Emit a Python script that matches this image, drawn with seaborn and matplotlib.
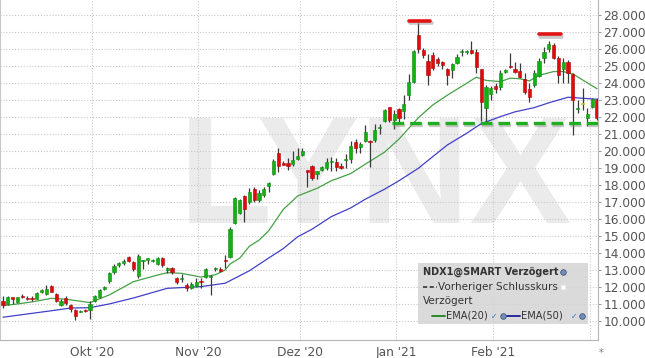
import numpy as np
import pandas as pd
import matplotlib
matplotlib.use("Agg")
import matplotlib.pyplot as plt
import matplotlib.patheffects as pe
from matplotlib.patches import Rectangle
import seaborn as sns

# ---------------- data ----------------
opens = [11.16, 11.00, 11.41, 11.12, 11.45, 11.35, 11.35, 11.30, 11.70, 11.60,
         12.05, 11.60, 10.96, 11.37, 10.96, 10.64, 10.52, 10.64, 10.67, 11.16,
         11.40, 11.90, 12.38, 12.86, 13.30, 13.43, 13.75, 13.47, 12.62, 13.50,
         13.58, 13.52, 13.37, 13.70, 13.02, 13.12, 12.52, 12.45, 12.14, 11.96,
         12.06, 12.37, 12.56, 12.58, 13.06, 13.08, 13.57, 13.77, 15.77, 16.36,
         17.34, 17.00, 17.79, 17.10, 17.43, 17.93, 18.67, 19.88, 19.30, 19.30,
         19.22, 19.51, 19.75, 18.86, 19.12, 18.65, 18.88, 18.98, 19.35, 19.37,
         19.08, 19.45, 19.53, 20.50, 20.22, 20.60, 20.60, 20.65, 21.33, 21.76,
         22.57, 21.82, 22.47, 22.35, 23.30, 24.08, 26.83, 25.94, 25.30, 25.65,
         25.40, 25.26, 24.81, 24.77, 25.20, 25.80, 25.82, 25.95, 25.85, 24.80,
         22.51, 23.36, 23.83, 23.79, 24.67, 25.02, 24.83, 24.73, 24.22, 23.65,
         23.89, 24.43, 25.49, 25.98, 26.24, 25.49, 24.83, 25.26, 24.53, 22.44,
         22.75, 21.96, 22.61, 23.00]
highs = [11.45, 11.48, 11.42, 11.42, 11.60, 11.45, 11.45, 11.70, 11.90, 12.10,
         12.13, 11.65, 11.30, 11.45, 11.00, 10.70, 10.62, 10.70, 11.20, 11.55,
         11.90, 12.05, 12.90, 13.33, 13.45, 13.62, 13.85, 13.55, 13.94, 13.60,
         13.70, 13.62, 13.75, 13.78, 13.18, 13.18, 12.58, 12.75, 12.22, 12.30,
         12.55, 12.53, 13.10, 12.70, 13.16, 13.18, 13.87, 15.55, 17.30, 17.20,
         17.40, 17.80, 17.90, 17.70, 17.90, 18.20, 19.50, 20.20, 19.40, 19.60,
         19.98, 20.15, 20.15, 18.88, 19.20, 18.85, 19.10, 19.60, 19.65, 19.60,
         19.30, 19.80, 20.60, 20.70, 20.55, 21.50, 20.65, 21.60, 21.60, 22.45,
         22.60, 22.40, 22.50, 23.30, 24.50, 25.95, 27.50, 26.05, 25.70, 25.80,
         25.50, 25.30, 24.90, 25.20, 25.70, 26.00, 25.95, 26.45, 26.00, 24.85,
         23.90, 23.80, 24.00, 24.77, 24.80, 25.75, 25.26, 25.16, 24.57, 23.98,
         24.77, 25.46, 26.14, 26.44, 26.34, 25.59, 25.46, 25.36, 24.61, 23.00,
         23.69, 22.51, 23.10, 23.10]
lows = [10.75, 10.96, 10.98, 11.05, 11.38, 11.24, 11.20, 11.28, 11.62, 11.55,
        11.70, 11.10, 10.86, 10.96, 10.50, 10.08, 10.50, 10.55, 10.12, 11.10,
        11.35, 11.85, 12.22, 12.76, 13.15, 13.30, 13.45, 12.96, 12.50, 13.04,
        13.35, 13.45, 13.30, 13.16, 12.84, 12.78, 12.20, 12.30, 11.78, 11.88,
        12.00, 11.96, 12.50, 11.50, 12.95, 12.90, 13.12, 13.70, 15.70, 16.30,
        15.80, 16.90, 17.00, 17.00, 17.30, 17.60, 18.60, 18.75, 19.15, 18.90,
        19.10, 19.45, 19.70, 17.86, 18.30, 18.35, 18.80, 18.90, 18.85, 18.80,
        18.95, 19.00, 19.30, 19.90, 19.90, 20.50, 19.05, 20.50, 21.00, 21.70,
        21.70, 21.30, 21.70, 21.90, 23.00, 24.00, 25.75, 25.45, 23.90, 24.75,
        25.00, 24.80, 23.90, 24.30, 25.10, 25.60, 25.70, 25.70, 24.60, 21.75,
        21.65, 23.00, 23.40, 23.59, 24.60, 24.87, 24.57, 24.28, 23.36, 22.90,
        23.79, 24.38, 25.16, 25.85, 25.40, 23.98, 23.98, 23.98, 20.94, 22.22,
        22.42, 21.44, 22.51, 21.83]
closes = [10.94, 11.42, 11.29, 11.39, 11.39, 11.30, 11.30, 11.67, 11.80, 11.90,
          11.73, 11.16, 11.16, 11.04, 10.70, 10.30, 10.60, 10.60, 11.00, 11.44,
          11.85, 12.00, 12.82, 13.23, 13.40, 13.55, 13.55, 13.08, 13.84, 13.55,
          13.68, 13.60, 13.68, 13.27, 13.06, 12.88, 12.32, 12.55, 11.92, 12.20,
          12.29, 12.30, 13.06, 12.65, 13.14, 12.96, 13.53, 15.43, 17.26, 17.14,
          16.61, 17.59, 17.14, 17.53, 17.79, 18.12, 19.41, 19.10, 19.20, 19.10,
          19.49, 19.71, 19.98, 18.78, 18.39, 18.82, 19.04, 19.37, 19.38, 19.04,
          19.02, 19.50, 20.30, 20.15, 20.40, 21.10, 20.53, 21.24, 21.40, 22.40,
          21.84, 22.16, 21.92, 22.75, 24.03, 25.89, 25.98, 25.65, 24.47, 24.87,
          25.20, 25.06, 24.47, 25.10, 25.55, 25.88, 25.88, 25.75, 24.95, 22.90,
          23.79, 23.69, 23.65, 24.57, 24.73, 24.92, 24.63, 24.34, 23.44, 23.16,
          24.57, 25.30, 25.85, 26.30, 25.49, 24.47, 25.26, 24.61, 23.00, 22.52,
          22.75, 22.16, 23.04, 21.96]

ema20_day = [0, 3, 6, 10, 13, 18, 22, 27, 32, 34, 37, 41, 44, 46, 47, 49, 51, 53, 55,
             58, 61, 65, 68, 72, 75, 79, 82, 84, 86, 89, 92, 96, 98, 100, 103, 105,
             107, 109, 111, 114, 116, 118, 120, 123]
ema20 = [10.90, 11.00, 11.12, 11.33, 11.28, 11.08, 11.53, 12.31, 12.70, 12.84, 12.80,
         12.58, 12.72, 13.00, 13.35, 13.69, 14.39, 14.75, 15.30, 16.55, 17.35, 17.80,
         18.25, 18.67, 19.22, 19.93, 20.70, 21.33, 21.95, 22.71, 23.28, 23.98, 24.34,
         24.15, 24.08, 24.28, 24.25, 24.12, 24.45, 24.67, 24.67, 24.53, 24.18, 23.66]
ema50_day = [0, 10, 14, 18, 22, 27, 34, 41, 46, 51, 55, 58, 61, 64, 68, 72, 75, 79,
             82, 86, 89, 92, 96, 99, 103, 106, 110, 113, 117, 119, 123]
ema50 = [10.22, 10.60, 10.76, 10.78, 11.00, 11.35, 11.92, 12.02, 12.22, 12.95,
         13.70, 14.25, 14.95, 15.40, 16.14, 16.65, 17.16, 17.75, 18.25, 18.98, 19.67,
         20.35, 21.04, 21.60, 22.02, 22.30, 22.55, 22.83, 23.16, 23.12, 23.04]

month_labels = ["Okt '20", "Nov '20", "Dez '20", "Jan '21", "Feb '21", ""]
month_day = [18, 40, 61, 81, 101, 121]
yticks = list(range(10, 29))

support_level = 21.65
support_from_day = 81
peak_levels = [27.65, 26.86]
peak_from_day = [84, 111]
peak_to_day = [88.5, 115.5]

# ---------------- figure ----------------
sns.set_theme(style="white")
plt.rcParams['font.family'] = ['DejaVu Sans']

W, H = 645, 358
fig = plt.figure(figsize=(W / 100, H / 100), dpi=100)
fig.patch.set_facecolor("white")
ax = fig.add_axes([0, 18 / H, 598 / W, 340 / H])
ax.set_facecolor("white")

n = len(closes)
days = np.arange(n)
ax.set_xlim(-0.62, n - 1 + 0.2)
ax.set_ylim(8.88, 28.88)

# watermark
ax.text(375 / 598, 1 - 223 / 340, "LYNX", transform=ax.transAxes, ha="center",
        va="baseline", fontsize=110, fontweight="bold", family="Liberation Sans",
        color="#ebebeb", zorder=0.2)

# grid
for v in yticks:
    ax.axhline(v, color="#c8c8c8", lw=0.8, ls=(0, (1, 1.6)), zorder=0.5)
for d in month_day:
    ax.axvline(d + 0.45, color="#c8c8c8", lw=0.8, ls=(0, (1, 1.6)), zorder=0.5)

# EMA lines
df20 = pd.DataFrame({"day": ema20_day, "v": ema20})
df50 = pd.DataFrame({"day": ema50_day, "v": ema50})
sns.lineplot(data=df50, x="day", y="v", ax=ax, color="#4040c8", lw=0.9, zorder=2)
sns.lineplot(data=df20, x="day", y="v", ax=ax, color="#46a046", lw=0.9, zorder=2)

# candles
o = np.array(opens); c = np.array(closes); h = np.array(highs); l = np.array(lows)
ax.vlines(days, l, h, color="#3a3a3a", lw=0.9, zorder=3)
bottom = np.minimum(o, c)
height = np.maximum(np.abs(c - o), 0.07)
cols = np.where(c > o, "#12b012", np.where(c < o, "#e00a0a", "#e8e800"))
edge = np.where(c > o, "#0d8a0d", np.where(c < o, "#b00606", "#b8b800"))
ax.bar(days, height, bottom=bottom, width=0.66, color=cols, edgecolor=edge,
       linewidth=0.4, zorder=4)

# support (dashed green) line with shadow
ax.plot([support_from_day - 0.4, n - 1 + 0.2], [support_level, support_level],
        color="#1fae1f", lw=2.4, ls=(0, (3.5, 1.8)), zorder=5, solid_capstyle="butt",
        path_effects=[pe.SimpleLineShadow(offset=(0.8, -1.6), shadow_color="#888888", alpha=0.45),
                      pe.Normal()])
# peak markers
for lv, a, b in zip(peak_levels, peak_from_day, peak_to_day):
    ax.plot([a, b], [lv, lv], color="#e01515", lw=2.6, zorder=5, solid_capstyle="round",
            path_effects=[pe.SimpleLineShadow(offset=(0.8, -1.6), shadow_color="#888888", alpha=0.45),
                          pe.Normal()])

# axes styling
ax.spines["top"].set_visible(False)
ax.spines["left"].set_color("#c8c8c8")
ax.spines["bottom"].set_color("#b5b5b5")
ax.spines["right"].set_color("#b5b5b5")
for s in ["left", "bottom", "right"]:
    ax.spines[s].set_linewidth(0.8)
ax.yaxis.tick_right()
ax.set_yticks(yticks)
ax.set_yticklabels([f"{v:.3f}" for v in yticks])
ax.tick_params(axis="y", which="both", right=True, left=False, length=2.5, width=0.7,
               color="#999999", pad=1.5, labelsize=8.8, labelcolor="#555555")
ax.set_xticks([d + 0.45 for d in month_day])
ax.set_xticklabels(month_labels)
ax.tick_params(axis="x", length=0, pad=4, labelsize=8.8, labelcolor="#555555")
ax.set_xlabel("")
ax.set_ylabel("")
fig.text(601 / W, 1 - 353 / H, "*", fontsize=7, color="#777777", ha="center", va="center")

# legend box (pixel helpers)
def fx(x):
    return x / W

def fy(y):
    return 1 - y / H

ax.add_patch(Rectangle((fx(418), fy(324)), fx(588) - fx(418), fy(263) - fy(324),
                       transform=fig.transFigure, facecolor="#d4d4d4", alpha=0.85,
                       edgecolor="none", zorder=6, clip_on=False))
tkw = dict(transform=fig.transFigure, va="center", ha="left", zorder=7, color="#333333")
ax.text(fx(423), fy(272), "NDX1@SMART Verzögert", fontsize=7, fontweight="bold", **tkw)
ax.text(fx(438), fy(286.5), "Vorheriger Schlusskurs", fontsize=7.5, **tkw)
ax.text(fx(423), fy(301), "Verzögert", fontsize=7.5, **tkw)
ax.text(fx(446), fy(316), "EMA(20)", fontsize=7.1, **tkw)
ax.text(fx(521), fy(316), "EMA(50)", fontsize=7.1, **tkw)
lkw = dict(transform=fig.transFigure, clip_on=False, zorder=7)
ax.plot([fx(423), fx(437)], [fy(286.5)] * 2, color="#333333", lw=1.2, ls=(0, (2.5, 1.5)), **lkw)
ax.plot([fx(432), fx(445)], [fy(316)] * 2, color="#2a8a2a", lw=1.4, **lkw)
ax.plot([fx(506), fx(520)], [fy(316)] * 2, color="#2a2aa0", lw=1.4, **lkw)
for gx, gy in [(563, 272), (503, 316), (582, 316)]:
    ax.plot([fx(gx)], [fy(gy)], marker="o", ms=4, mfc="#6f8fc0", mec="#445577", mew=0.6, **lkw)
ax.plot([fx(563)], [fy(286.5)], marker="s", ms=3.5, mfc="white", mec="#eeeeee", mew=0.5, **lkw)
for cx in [494, 574]:
    ax.text(fx(cx), fy(316.5), "\u2713", fontsize=5.5, color="#3070d0", transform=fig.transFigure,
            ha="center", va="center", zorder=7)

fig.savefig("out.png", dpi=100)
